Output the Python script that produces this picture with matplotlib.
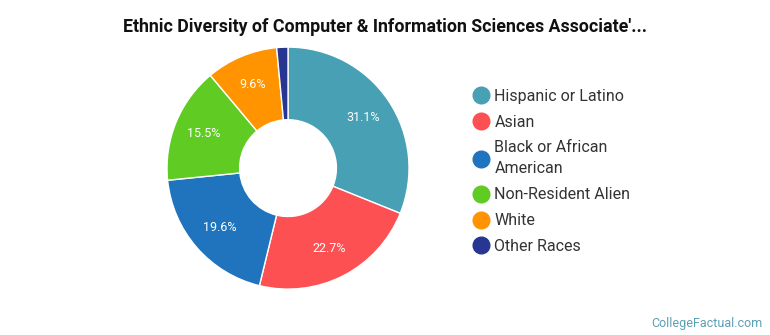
import matplotlib
matplotlib.use("Agg")
import matplotlib.pyplot as plt
from matplotlib.lines import Line2D

plt.rcParams["font.family"] = ["Roboto", "DejaVu Sans"]

# --- Data ---
categories = ["Hispanic or Latino", "Asian", "Black or African\nAmerican",
              "Non-Resident Alien", "White", "Other Races"]
shares = [31.1, 22.7, 19.6, 15.5, 9.6, 1.5]
colors = ["#48a0b4", "#fd5052", "#1f74bd", "#5fcb23", "#ff9300", "#273691"]

title = "Ethnic Diversity of Computer & Information Sciences Associate'..."


def pct_label(p):
    # small slices get no label
    return f"{p:.1f}%" if p > 5 else ""


fig = plt.figure(figsize=(7.7, 3.35), dpi=100)
ax = fig.add_axes([0.2169, 0.137, 0.3143, 0.7224])

wedges, texts, autotexts = ax.pie(
    shares,
    colors=colors,
    startangle=90,
    counterclock=False,
    autopct=pct_label,
    pctdistance=0.75,
    wedgeprops=dict(width=0.6, edgecolor="white", linewidth=1),
    textprops=dict(color="white", fontsize=9),
)
ax.set_xlim(-1, 1)
ax.set_ylim(-1, 1)
ax.set_aspect("equal")

fig.text(0.5, 0.918, title, ha="center", va="center",
         fontsize=12.8, fontweight="bold", color="#111111")

handles = [Line2D([0], [0], marker="o", linestyle="", markersize=12,
                  markerfacecolor=c, markeredgecolor=c) for c in colors]
leg = fig.legend(handles, categories, loc="upper left",
                 bbox_to_anchor=(0.6025, 0.759), frameon=False,
                 fontsize=11.5, labelcolor="#333333", handletextpad=0.2,
                 labelspacing=0.68, handlelength=1.2, borderpad=0)
for t in leg.get_texts():
    t.set_linespacing(1.5)

fig.text(0.99, 0.035, "CollegeFactual.com", ha="right", va="center",
         fontsize=9, color="#5b9fb5")

fig.savefig("out.png", dpi=100)
